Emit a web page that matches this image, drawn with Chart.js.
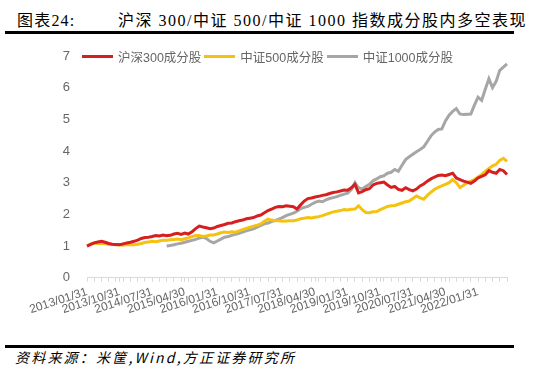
<!DOCTYPE html>
<html>
<head>
<meta charset="utf-8">
<script src="https://cdn.jsdelivr.net/npm/chart.js@4"></script>
<style>
  body { margin: 0; width: 534px; height: 378px; background: #fff; position: relative; overflow: hidden; }
  .cap { position: absolute; top: 7px; font: 16px 'Liberation Serif', 'Noto Sans CJK SC', serif; color: #000; white-space: nowrap; letter-spacing: 1.2px; }
  .rule { position: absolute; left: 5px; width: 509px; background: #000; }
  #box { position: absolute; left: 0; top: 36px; width: 534px; height: 306px; }
  #legend { position: absolute; left: 82px; top: 47px; font: 12.5px 'Liberation Sans', 'Noto Sans CJK SC', sans-serif; color: #666; white-space: nowrap; display: flex; align-items: center; }
  #legend .sw { display: inline-block; width: 31px; height: 3px; margin-right: 5px; }
  #legend .it { display: flex; align-items: center; margin-right: 3px; }
  #src { position: absolute; left: 15px; top: 347px; font: italic 14px 'Noto Sans CJK SC', sans-serif; letter-spacing: 2.2px; color: #000; white-space: nowrap; }
</style>
</head>
<body>
<div class="cap" style="left:17px">图表24:</div>
<div class="cap" style="left:118px;letter-spacing:1.5px">沪深 300/中证 500/中证 1000 指数成分股内多空表现</div>
<div class="rule" style="top:31px;height:3px"></div>
<div id="box"><canvas id="chart"></canvas></div>
<div id="legend"></div>
<div class="rule" style="top:345px;height:3px"></div>
<div id="src">资料来源：米筐,Wind,方正证券研究所</div>
<script>
// monthly, 2013/01 .. 2022/09
const startYear = 2013;
const monthCount = 117;
const labelEvery = 9;

const seriesNames = ['沪深300成分股', '中证500成分股', '中证1000成分股'];
const seriesColors = ['#d61f1f', '#f5c30f', '#a6a6a6'];

const hs300 = [
  1.00, 1.05, 1.10, 1.13, 1.15, 1.12, 1.08, 1.06, 1.05, 1.04,
  1.07, 1.10, 1.12, 1.15, 1.19, 1.24, 1.27, 1.28, 1.30, 1.33,
  1.32, 1.35, 1.33, 1.34, 1.38, 1.40, 1.37, 1.41, 1.38, 1.45,
  1.55, 1.63, 1.60, 1.58, 1.55, 1.57, 1.62, 1.65, 1.68, 1.72,
  1.73, 1.77, 1.80, 1.82, 1.86, 1.88, 1.90, 1.95, 1.98, 2.05,
  2.12, 2.17, 2.22, 2.25, 2.24, 2.27, 2.26, 2.24, 2.17, 2.30,
  2.42, 2.50, 2.52, 2.55, 2.57, 2.60, 2.62, 2.66, 2.69, 2.71,
  2.74, 2.77, 2.76, 2.84, 2.95, 2.68, 2.72, 2.78, 2.81, 2.93,
  2.98, 3.00, 3.02, 2.93, 2.85, 2.88, 2.79, 2.76, 2.84, 2.78,
  2.74, 2.80, 2.90, 2.96, 3.05, 3.12, 3.18, 3.23, 3.24, 3.22,
  3.26, 3.30, 3.15, 3.10, 3.05, 3.02, 2.98, 3.05, 3.15, 3.20,
  3.25, 3.38, 3.33, 3.30, 3.42, 3.38, 3.26
];

const zz500 = [
  1.00, 1.06, 1.10, 1.08, 1.09, 1.07, 1.06, 1.05, 1.04, 1.04,
  1.03, 1.05, 1.04, 1.04, 1.06, 1.08, 1.11, 1.13, 1.15, 1.14,
  1.16, 1.18, 1.18, 1.20, 1.21, 1.22, 1.20, 1.23, 1.26, 1.30,
  1.33, 1.33, 1.30, 1.32, 1.35, 1.35, 1.38, 1.42, 1.44, 1.43,
  1.45, 1.44, 1.48, 1.52, 1.56, 1.60, 1.63, 1.66, 1.70, 1.78,
  1.85, 1.82, 1.80, 1.80, 1.78, 1.79, 1.80, 1.80, 1.82, 1.86,
  1.88, 1.90, 1.89, 1.91, 1.93, 1.96, 2.00, 2.04, 2.08, 2.10,
  2.12, 2.15, 2.14, 2.16, 2.17, 2.27, 2.15, 2.06, 2.05, 2.08,
  2.09, 2.15, 2.20, 2.25, 2.27, 2.28, 2.32, 2.36, 2.40, 2.42,
  2.50, 2.58, 2.52, 2.48, 2.60, 2.70, 2.79, 2.85, 2.90, 2.95,
  3.00, 3.10, 3.00, 2.85, 2.92, 3.00, 3.05, 3.10, 3.18, 3.26,
  3.36, 3.45, 3.53, 3.58, 3.70, 3.77, 3.67
];

const zz1000 = [
  null, null, null, null, null, null, null, null, null, null,
  null, null, null, null, null, null, null, null, null, null,
  null, null, 1.00, 1.02, 1.04, 1.07, 1.09, 1.12, 1.15, 1.18,
  1.21, 1.25, 1.28, 1.24, 1.15, 1.10, 1.16, 1.22, 1.28, 1.30,
  1.34, 1.37, 1.40, 1.44, 1.48, 1.51, 1.54, 1.60, 1.65, 1.70,
  1.73, 1.77, 1.81, 1.85, 1.90, 1.96, 2.00, 2.04, 2.10, 2.18,
  2.22, 2.25, 2.32, 2.38, 2.42, 2.40, 2.46, 2.50, 2.53, 2.56,
  2.60, 2.64, 2.67, 2.78, 3.00, 2.84, 2.80, 2.88, 2.95, 3.06,
  3.12, 3.19, 3.22, 3.30, 3.33, 3.42, 3.36, 3.55, 3.73, 3.82,
  3.90, 3.98, 4.05, 4.13, 4.30, 4.48, 4.60, 4.68, 4.70, 4.95,
  5.13, 5.25, 5.34, 5.17, 5.15, 5.16, 5.17, 5.45, 5.70, 5.60,
  5.95, 6.28, 6.00, 6.20, 6.55, 6.65, 6.75
];

// month-end date labels
const months = [];
for (let i = 0; i < monthCount; i++) {
    const y = startYear + Math.floor(i / 12);
    const m = i % 12;
    const d = new Date(y, m + 1, 0).getDate();
    months.push(`${y}/${String(m + 1).padStart(2, '0')}/${d}`);
}

const seriesData = [hs300, zz500, zz1000];

const legend = document.getElementById('legend');
seriesNames.forEach((name, k) => {
    const it = document.createElement('span');
    it.className = 'it';
    it.innerHTML = `<span class="sw" style="background:${seriesColors[k]}"></span>${name}`;
    legend.appendChild(it);
});

const font = "'Liberation Sans', Arial, 'Noto Sans CJK SC', sans-serif";

new Chart(document.getElementById('chart').getContext('2d'), {
    type: 'line',
    data: {
        labels: months,
        datasets: seriesNames.map((name, k) => ({
            label: name,
            data: seriesData[k],
            borderColor: seriesColors[k],
            backgroundColor: seriesColors[k],
            borderWidth: 3,
            pointRadius: 0,
            tension: 0,
            fill: false
        }))
    },
    options: {
        responsive: true,
        maintainAspectRatio: false,
        animation: false,
        layout: { padding: { top: 20, left: 45, right: 27, bottom: 22 } },
        plugins: {
            legend: { display: false },
            tooltip: { enabled: false }
        },
        scales: {
            x: {
                grid: { display: true, drawOnChartArea: false, tickLength: 4, color: '#d9d9d9' },
                border: { display: true, color: '#d9d9d9' },
                ticks: {
                    autoSkip: false,
                    minRotation: 18,
                    maxRotation: 18,
                    padding: 3,
                    color: '#666',
                    font: { family: font, size: 12 },
                    callback: function (v, i) {
                        if (i % labelEvery === 0) return this.getLabelForValue(v);
                        return i % 2 === 0 ? '' : null;
                    }
                }
            },
            y: {
                min: 0,
                max: 7,
                afterFit: (scale) => { scale.width = 42; },
                grid: { display: false },
                border: { display: false },
                ticks: {
                    stepSize: 1,
                    padding: 9,
                    color: '#666',
                    font: { family: font, size: 13 }
                }
            }
        }
    }
});
</script>
</body>
</html>
